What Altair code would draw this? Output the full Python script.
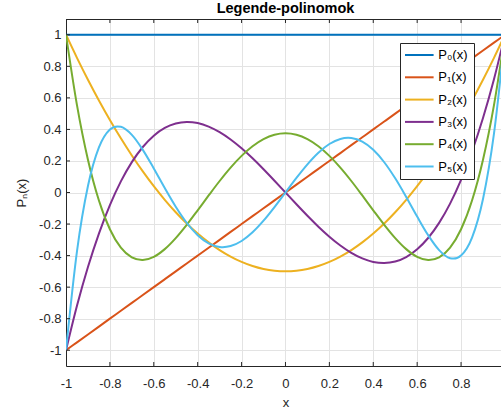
import altair as alt
import pandas as pd

# ---- data ----
x_vals = [-1.0, -0.95, -0.9, -0.85, -0.8, -0.75, -0.7, -0.65, -0.6, -0.55, -0.5,
          -0.45, -0.4, -0.35, -0.3, -0.25, -0.2, -0.15, -0.1, -0.05, 0.0,
          0.05, 0.1, 0.15, 0.2, 0.25, 0.3, 0.35, 0.4, 0.45, 0.5,
          0.55, 0.6, 0.65, 0.7, 0.75, 0.8, 0.85, 0.9, 0.95, 1.0]

p0 = [1, 1, 1, 1, 1, 1, 1, 1, 1, 1, 1,
      1, 1, 1, 1, 1, 1, 1, 1, 1, 1,
      1, 1, 1, 1, 1, 1, 1, 1, 1, 1,
      1, 1, 1, 1, 1, 1, 1, 1, 1, 1]

p1 = [-1.0, -0.95, -0.9, -0.85, -0.8, -0.75, -0.7, -0.65, -0.6, -0.55, -0.5,
      -0.45, -0.4, -0.35, -0.3, -0.25, -0.2, -0.15, -0.1, -0.05, 0.0,
      0.05, 0.1, 0.15, 0.2, 0.25, 0.3, 0.35, 0.4, 0.45, 0.5,
      0.55, 0.6, 0.65, 0.7, 0.75, 0.8, 0.85, 0.9, 0.95, 1.0]

p2 = [1.0, 0.85375, 0.715, 0.58375, 0.46, 0.34375, 0.235, 0.13375, 0.04, -0.04625, -0.125,
      -0.19625, -0.26, -0.31625, -0.365, -0.40625, -0.44, -0.46625, -0.485, -0.49625, -0.5,
      -0.49625, -0.485, -0.46625, -0.44, -0.40625, -0.365, -0.31625, -0.26, -0.19625, -0.125,
      -0.04625, 0.04, 0.13375, 0.235, 0.34375, 0.46, 0.58375, 0.715, 0.85375, 1.0]

p3 = [-1.0, -0.71844, -0.4725, -0.26031, -0.08, 0.07031, 0.1925, 0.28844, 0.36, 0.40906, 0.4375,
      0.44719, 0.44, 0.41781, 0.3825, 0.33594, 0.28, 0.21656, 0.1475, 0.07469, 0.0,
      -0.07469, -0.1475, -0.21656, -0.28, -0.33594, -0.3825, -0.41781, -0.44, -0.44719, -0.4375,
      -0.40906, -0.36, -0.28844, -0.1925, -0.07031, 0.08, 0.26031, 0.4725, 0.71844, 1.0]

p4 = [1.0, 0.55409, 0.20794, -0.0506, -0.233, -0.3501, -0.41206, -0.42841, -0.408, -0.35904, -0.28906,
      -0.20497, -0.113, -0.01872, 0.07294, 0.15771, 0.232, 0.29284, 0.33794, 0.36565, 0.375,
      0.36565, 0.33794, 0.29284, 0.232, 0.15771, 0.07294, -0.01872, -0.113, -0.20497, -0.28906,
      -0.35904, -0.408, -0.42841, -0.41206, -0.3501, -0.233, -0.0506, 0.20794, 0.55409, 1.0]

p5 = [-1.0, -0.37274, 0.04114, 0.28567, 0.39952, 0.41638, 0.3652, 0.27049, 0.15264, 0.0282, -0.08984,
      -0.19172, -0.27064, -0.32245, -0.34539, -0.33972, -0.30752, -0.25232, -0.17883, -0.09266, 0.0,
      0.09266, 0.17883, 0.25232, 0.30752, 0.33972, 0.34539, 0.32245, 0.27064, 0.19172, 0.08984,
      -0.0282, -0.15264, -0.27049, -0.3652, -0.41638, -0.39952, -0.28567, -0.04114, 0.37274, 1.0]

series_names = ["P₀(x)", "P₁(x)", "P₂(x)", "P₃(x)", "P₄(x)", "P₅(x)"]
series_colors = ["#0072BD", "#D95319", "#EDB120", "#7E2F8E", "#77AC30", "#4DBEEE"]

x_ticks = [-1, -0.8, -0.6, -0.4, -0.2, 0, 0.2, 0.4, 0.6, 0.8, 1]
y_ticks = [-1, -0.8, -0.6, -0.4, -0.2, 0, 0.2, 0.4, 0.6, 0.8, 1]

title_text = "Legende-polinomok"
x_title = "x"
y_title = "Pₙ(x)"

# ---- build table ----
rows = []
for name, ys in zip(series_names, [p0, p1, p2, p3, p4, p5]):
    for i, (xv, yv) in enumerate(zip(x_vals, ys)):
        rows.append({"x": xv, "y": yv, "series": name, "order": i})
df = pd.DataFrame(rows)

W, H = 435, 347
FONT = "Liberation Sans"
DARK = "#262626"
x_scale = alt.Scale(domain=[-1, 0.982], nice=False, zero=False)
y_scale = alt.Scale(domain=[-1.1, 1.1], nice=False, zero=False)

x_axis = alt.Axis(values=x_ticks, title=x_title, grid=True, ticks=False, format="~g",
                  labelFlush=False, labelOverlap=False, labelBound=False,
                  labelPadding=11, titleX=219.5, titleY=40, titleBaseline="alphabetic")
y_axis = alt.Axis(values=y_ticks, title=y_title, grid=True, ticks=False, format="~g",
                  labelFlush=False, labelOverlap=False,
                  labelPadding=5, titleX=-41, titleBaseline="alphabetic")

lines = alt.Chart(df).mark_line(strokeWidth=2, clip=True, interpolate="cardinal").encode(
    x=alt.X("x:Q", scale=x_scale, axis=x_axis),
    y=alt.Y("y:Q", scale=y_scale, axis=y_axis),
    color=alt.Color("series:N", sort=series_names,
                    scale=alt.Scale(domain=series_names, range=series_colors),
                    legend=alt.Legend(title=None, orient="none", legendX=334, legendY=24,
                                      direction="vertical", symbolType="M-2.6,0H2.6",
                                      symbolSize=121, symbolStrokeWidth=2,
                                      symbolOffset=7.3, labelOffset=12.5,
                                      labelFontSize=13, labelFont=FONT, labelColor="#000000",
                                      strokeColor=DARK, fillColor="white",
                                      padding=5.5, rowPadding=8.3, offset=0)),
    order="order:Q",
)

tick_x_df = pd.DataFrame({"x": x_ticks})
tick_y_df = pd.DataFrame({"y": y_ticks})

bottom_ticks = alt.Chart(tick_x_df).mark_rule(color=DARK, clip=True).encode(
    x=alt.X("x:Q", scale=x_scale, axis=x_axis),
    y=alt.value(H), y2=alt.value(H - 4))
top_ticks = alt.Chart(tick_x_df).mark_rule(color=DARK, clip=True).encode(
    x=alt.X("x:Q", scale=x_scale, axis=x_axis),
    y=alt.value(0), y2=alt.value(4))
left_ticks = alt.Chart(tick_y_df).mark_rule(color=DARK).encode(
    y=alt.Y("y:Q", scale=y_scale, axis=y_axis),
    x=alt.value(0), x2=alt.value(4))
top_border = alt.Chart(pd.DataFrame({"x": [0]})).mark_rule(color=DARK).encode(
    x=alt.value(0), x2=alt.value(W), y=alt.value(0.5))

chart = alt.layer(lines, bottom_ticks, top_ticks, left_ticks, top_border).properties(
    width=W, height=H,
    title=alt.TitleParams(title_text, font=FONT, fontSize=14.5, fontWeight="bold",
                          color="#000000", anchor="middle", baseline="alphabetic",
                          frame="group", offset=5, dx=2, dy=13),
    autosize=alt.AutoSizeParams(type="none"),
    padding={"left": 66, "top": 19, "right": 0, "bottom": 48},
).configure(
    background="white",
    locale={"number": {"decimal": ".", "thousands": ",", "grouping": [3],
                       "currency": ["$", ""], "minus": "-"}},
).configure_view(stroke=None).configure_axis(
    labelFont=FONT, labelFontSize=13, labelColor=DARK,
    titleFont=FONT, titleFontSize=13, titleColor=DARK, titleFontWeight="normal",
    domainColor=DARK, domainWidth=1, gridColor="#e3e3e3", gridWidth=1,
)

chart.save("out.html", embed_options={"renderer": "svg", "actions": False})
